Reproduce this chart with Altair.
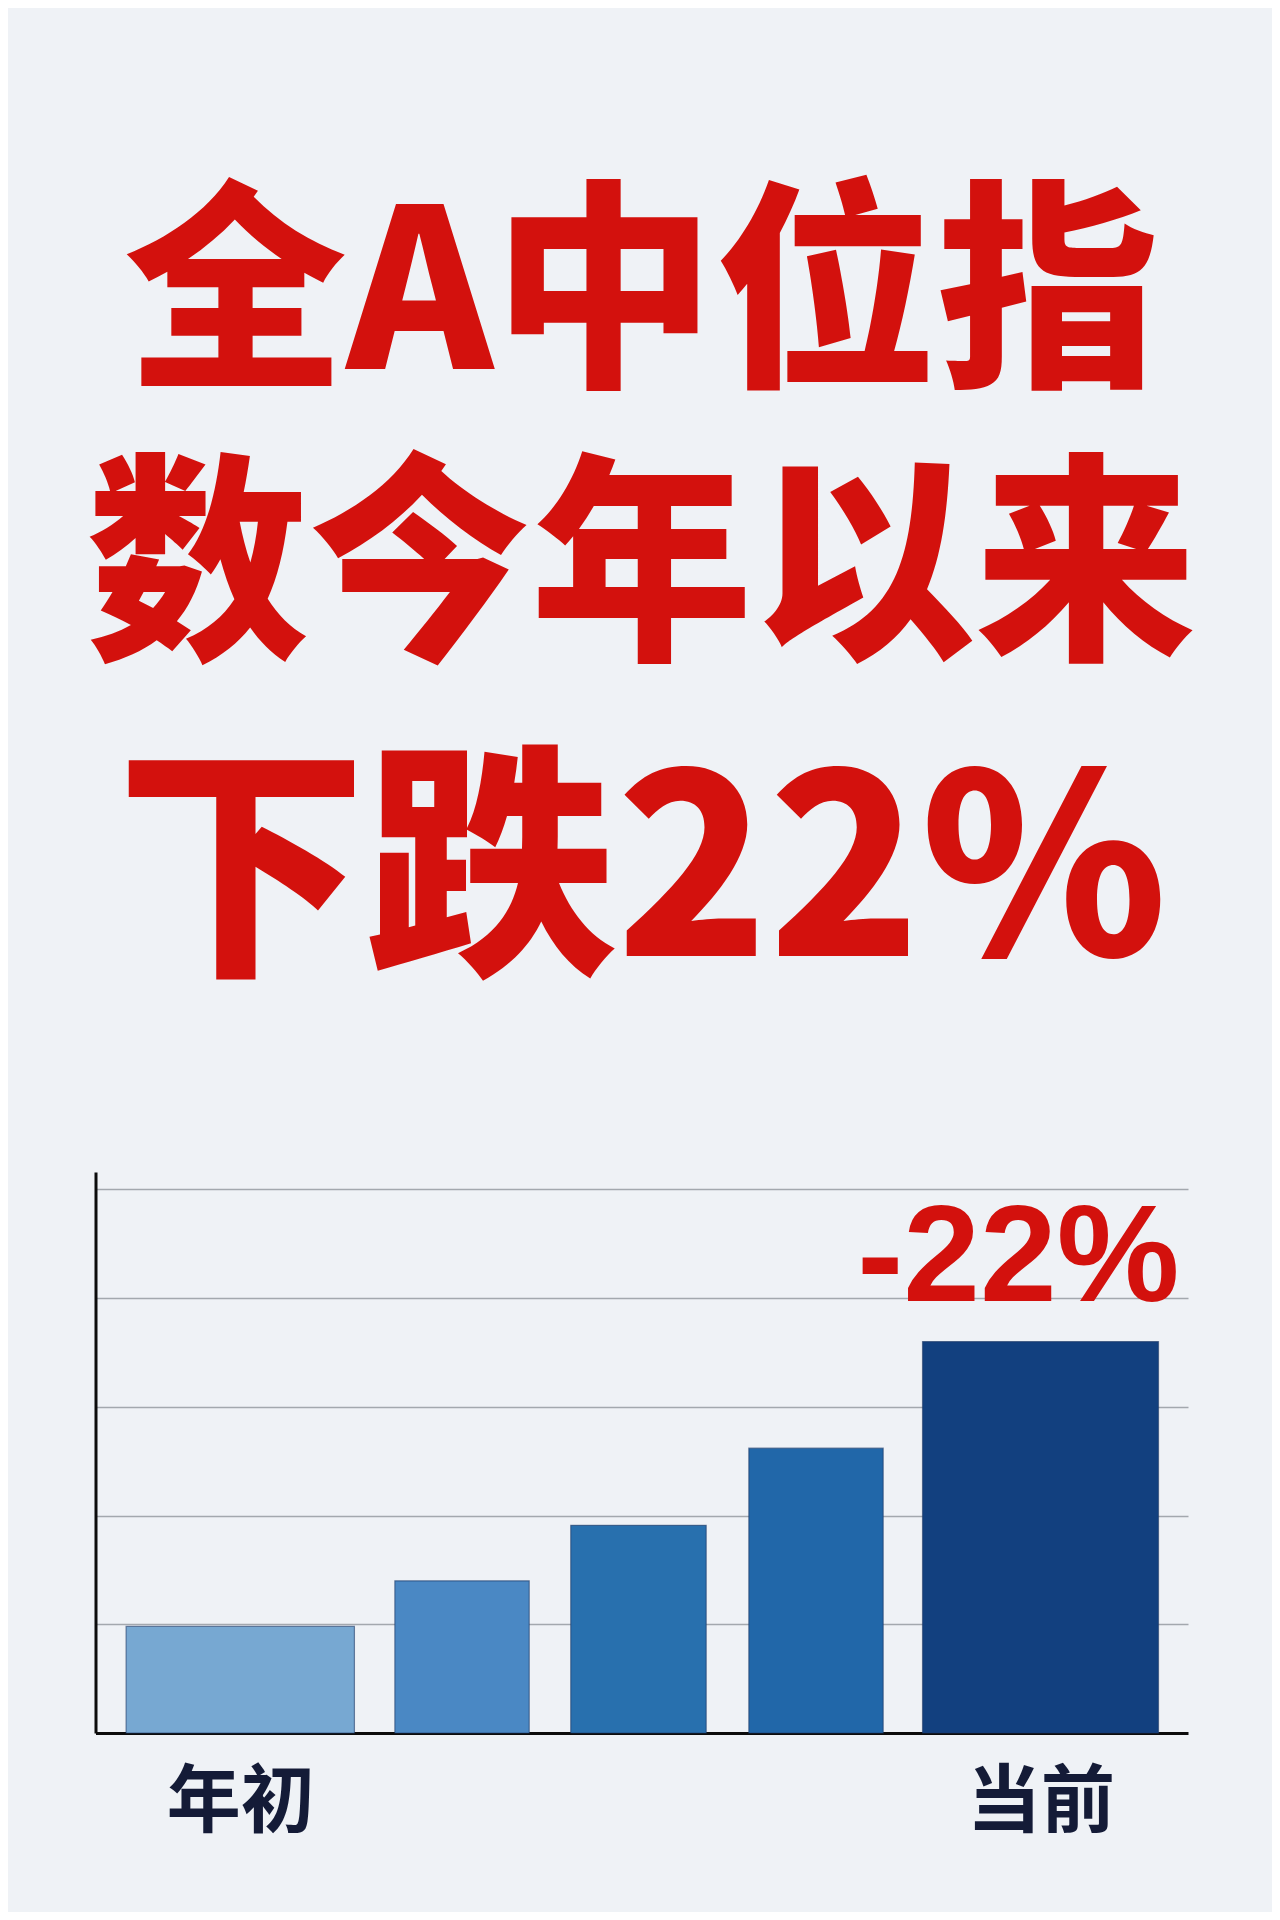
import altair as alt
import pandas as pd

# ---- data ----
title_lines = ["全A中位指", "数今年以来"]
subtitle_line = "下跌22%"
stage_order = [1, 2, 3, 4, 5]
stage_names = ["年初", "", "", "", "当前"]
period_start = [2.8, 27.4, 43.5, 59.8, 75.7]
period_end = [23.7, 39.7, 55.9, 72.1, 97.3]
level = [0.98, 1.40, 1.91, 2.62, 3.60]
bar_labels = ["", "", "", "", "-22%"]
grid_values = [1, 2, 3, 4, 5]

# ---- style ----
palette = ["#77a8d2", "#4a88c4", "#2870ae", "#2167a9", "#12407f"]
RED = "#d3110d"
NAVY = "#141b37"
CJK = "Noto Sans CJK SC"
BG = "#eff2f6"

df = pd.DataFrame({
    "order": stage_order,
    "name": stage_names,
    "start": period_start,
    "end": period_end,
    "value": level,
    "label": bar_labels,
})

W, H = 1092.5, 561
x_scale = alt.Scale(domain=[0, 100], nice=False, zero=False)
y_scale = alt.Scale(domain=[0, 5.16], nice=False)

centers = [(s + e) / 2 for s, e, n in zip(period_start, period_end, stage_names) if n]
names = [n for n in stage_names if n]
expr = ""
for c, n in zip(centers, names):
    expr += f"abs(datum.value - {c}) < 0.01 ? '{n}' : "
expr += "''"

bars = alt.Chart(df).mark_bar(
    stroke="#1f3b68", strokeWidth=1.2, strokeOpacity=0.6
).encode(
    x=alt.X(
        "start:Q", scale=x_scale,
        axis=alt.Axis(
            values=centers, labelExpr=expr, title=None, ticks=False, grid=False,
            domainColor="#0c0c0c", domainWidth=3, labelFont=CJK, labelFontSize=74,
            labelFontWeight="bold", labelColor=NAVY, labelPadding=34,
            labelFlush=False, labelOverlap=False,
        ),
    ),
    x2="end:Q",
    y=alt.Y(
        "value:Q", scale=y_scale,
        axis=alt.Axis(
            values=grid_values, labels=False, ticks=False, title=None, grid=True,
            gridColor="#a3a8ae", gridWidth=1.6, domainColor="#0c0c0c", domainWidth=3,
        ),
    ),
    y2=alt.datum(0),
    color=alt.Color("order:O", scale=alt.Scale(domain=stage_order, range=palette), legend=None),
)

label = alt.Chart(df).transform_filter("datum.label != ''").mark_text(
    font="Liberation Sans", fontWeight="bold", fontSize=138, color=RED,
    align="right", baseline="alphabetic", dx=21, dy=-41,
).encode(
    x=alt.X("end:Q", scale=x_scale),
    y=alt.Y("value:Q", scale=y_scale),
    text="label:N",
)

chart = alt.layer(bars, label).properties(
    width=W,
    height=H,
    title=alt.TitleParams(
        text=title_lines,
        subtitle=[subtitle_line],
        font=CJK, fontSize=222, fontWeight=900, color=RED, lineHeight=273,
        anchor="middle", offset=163,
        subtitleFont=CJK, subtitleFontSize=250, subtitleFontWeight=900,
        subtitleColor=RED, subtitlePadding=69, subtitleLineHeight=250,
    ),
    padding={"left": 87.5, "top": 1164, "right": 84, "bottom": 179},
    autosize="none",
    background=BG,
).configure_view(stroke=None)

chart.save("out.html", embed_options={"renderer": "svg", "actions": False})
